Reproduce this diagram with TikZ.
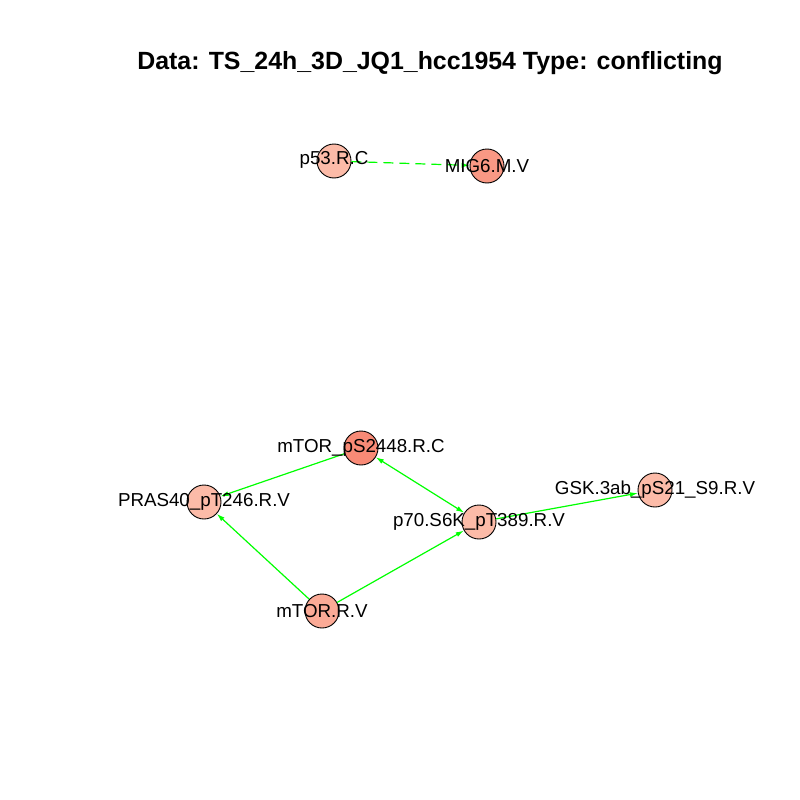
\documentclass[tikz,border=0pt]{standalone}
\usepackage{fontspec}
\setmainfont{Liberation Sans}
\usetikzlibrary{arrows.meta}
\definecolor{lightred}{HTML}{FCBBA8}
\definecolor{midred}{HTML}{FBAA96}
\definecolor{darkred}{HTML}{F99884}
\definecolor{darkestred}{HTML}{F88A76}
\definecolor{edgegreen}{HTML}{00FF00}
\tikzset{
  vert/.style={circle, draw=black, line width=0.9pt, minimum size=34pt, inner sep=0pt},
  lab/.style={inner sep=0pt, font=\fontsize{18.75}{20}\selectfont},
  edge/.style={draw=edgegreen, line width=1.2pt, -{Latex[length=8pt,width=5pt]}},
  biedge/.style={draw=edgegreen, line width=1.2pt, {Latex[length=8pt,width=5pt]}-{Latex[length=8pt,width=5pt]}},
  title/.style={inner sep=0pt, font=\fontsize{24.9}{28}\selectfont\bfseries}
}
\begin{document}
\begin{tikzpicture}[x=1pt,y=-1pt]
\useasboundingbox[fill=white] (0,0) rectangle (800,800);
\node[title] (ttl) at (430,63) {Data: TS\_24h\_3D\_JQ1\_hcc1954 Type: conflicting};
% vertices
\node[vert, fill=lightred] (p53) at (334,161) {};
\node[vert, fill=darkred] (mig6) at (487,166) {};
\node[vert, fill=darkestred] (mtorp) at (361,448) {};
\node[vert, fill=lightred] (pras) at (204,502) {};
\node[vert, fill=lightred] (p70) at (479,522) {};
\node[vert, fill=lightred] (gsk) at (655,490) {};
\node[vert, fill=midred] (mtor) at (322,611) {};
% edges
\draw[edge, dashed, dash pattern=on 10pt off 6pt] (p53) -- (mig6);
\draw[edge] (mtorp) -- (pras);
\draw[biedge] (mtorp) -- (p70);
\draw[edge] (mtor) -- (pras);
\draw[edge] (mtor) -- (p70);
\draw[edge] (p70) -- (gsk);
% labels
\node[lab] (lp53) at (334,160) {p53.R.C};
\node[lab] (lmig6) at (487,166) {MIG6.M.V};
\node[lab] (lmtorp) at (361,448) {mTOR\_pS2448.R.C};
\node[lab] (lpras) at (204,502) {PRAS40\_pT246.R.V};
\node[lab] (lp70) at (479,522) {p70.S6K\_pT389.R.V};
\node[lab] (lgsk) at (655,490) {GSK.3ab\_pS21\_S9.R.V};
\node[lab] (lmtor) at (322,611) {mTOR.R.V};
\end{tikzpicture}
\end{document}
